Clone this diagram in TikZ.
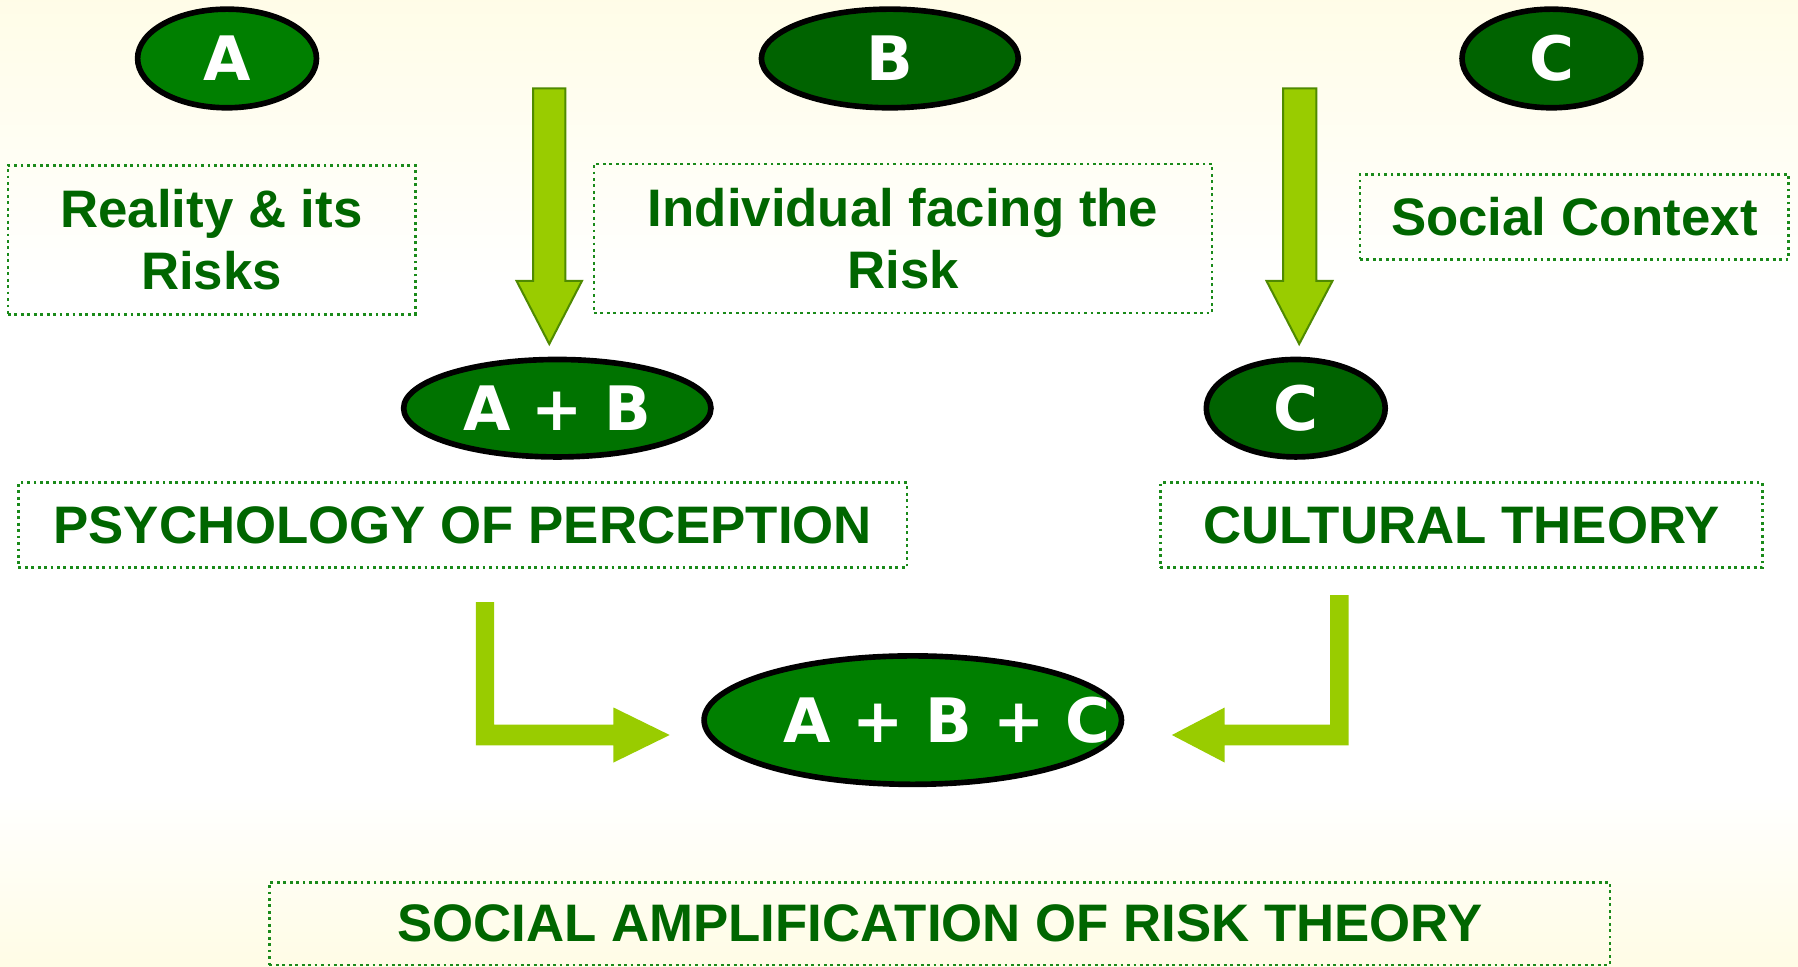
\documentclass[tikz,border=0pt]{standalone}
\usepackage{fontspec}
\setmainfont{Liberation Sans}
\newfontfamily\ellfont{DejaVu Sans}
\usetikzlibrary{shapes.geometric}
\definecolor{leafgreen}{HTML}{006600}
\definecolor{dotgreen}{HTML}{1A8A1A}
\definecolor{arrowlime}{HTML}{99CC00}
\definecolor{arrowedge}{HTML}{4F8A00}
\definecolor{ellbright}{HTML}{007F00}
\definecolor{ellmid}{HTML}{007300}
\definecolor{elldark}{HTML}{006300}
\definecolor{bgtop}{HTML}{FFF8C0}
\definecolor{bgbottom}{HTML}{FFF49E}
\pgfdeclareverticalshading{bgfade}{100bp}{color(0bp)=(bgbottom); color(34bp)=(white);
	color(60bp)=(white); color(100bp)=(bgtop)}
\begin{document}
\begin{tikzpicture}
	\tikzset{
		oval/.style={ellipse, draw=black, line width=1.4pt, minimum height=0.86cm,
			inner sep=0pt, text=white, font=\ellfont\bfseries\fontsize{15.2}{18}\selectfont},
		dotbox/.style={draw=dotgreen, line width=0.7pt, dash pattern=on 0.7pt off 0.9pt,
			inner sep=0pt, align=center, text=leafgreen,
			font=\bfseries\fontsize{13.1}{15.4}\selectfont},
		downarrow/.style={fill=arrowlime, draw=arrowedge, line width=0.5pt},
		bentarrow/.style={fill=arrowlime}
	}
	% background
	\shade[shading=bgfade] (0,0) rectangle (15.68,8.43);
	\useasboundingbox (0,0) rectangle (15.68,8.43);
	% top row
	\node[oval, fill=ellbright, minimum width=1.56cm] (A) at (1.98,7.92) {A};
	\node[oval, fill=elldark, minimum width=2.24cm] (B) at (7.76,7.92) {B};
	\node[oval, fill=elldark, minimum width=1.56cm] (C) at (13.53,7.92) {C};
	\node[dotbox, minimum width=3.55cm, minimum height=1.30cm] (reality) at (1.845,6.34) {Reality \& its\\Risks};
	\node[dotbox, minimum width=5.39cm, minimum height=1.30cm] (individual) at (7.875,6.35) {Individual facing the\\Risk};
	\node[dotbox, minimum width=3.74cm, minimum height=0.74cm] (context) at (13.73,6.54) {Social Context};
	% middle row
	\node[oval, fill=ellmid, minimum width=2.68cm, minimum height=0.85cm] (AB) at (4.86,4.87) {A + B};
	\node[oval, fill=elldark, minimum width=1.56cm, minimum height=0.85cm] (Cm) at (11.30,4.87) {C};
	\node[dotbox, minimum width=7.75cm, minimum height=0.74cm] (psych) at (4.035,3.85) {PSYCHOLOGY OF PERCEPTION};
	\node[dotbox, minimum width=5.25cm, minimum height=0.74cm] (cultural) at (12.745,3.85) {CULTURAL THEORY};
	% bottom
	\node[oval, fill=ellbright, minimum width=3.64cm, minimum height=1.12cm] (ABC) at (7.96,2.15) {};
	\node[text=white, font=\ellfont\bfseries\fontsize{15.2}{18}\selectfont] (ABCtext) at (8.26,2.15) {A + B + C};
	\node[dotbox, minimum width=11.69cm, minimum height=0.72cm] (amplif) at (8.195,0.375) {SOCIAL AMPLIFICATION OF RISK THEORY};
	% arrows
	\coordinate (tipAB) at (4.79,5.43);
	\coordinate (tipC) at (11.33,5.43);
	\coordinate (tipL) at (5.84,2.02);
	\coordinate (tipR) at (10.22,2.02);
	\filldraw[downarrow] (tipAB) -- ++(-0.285,0.55) -- ++(0.145,0) -- ++(0,1.68) -- ++(0.28,0)
		-- ++(0,-1.68) -- ++(0.145,0) -- cycle;
	\filldraw[downarrow] (tipC) -- ++(-0.285,0.55) -- ++(0.145,0) -- ++(0,1.68) -- ++(0.29,0)
		-- ++(0,-1.68) -- ++(0.14,0) -- cycle;
	\fill[bentarrow] (tipL) -- ++(-0.49,0.24) -- ++(0,-0.15) -- ++(-1.04,0) -- ++(0,1.07)
		-- ++(-0.16,0) -- ++(0,-1.25) -- ++(1.20,0) -- ++(0,-0.15) -- cycle;
	\fill[bentarrow] (tipR) -- ++(0.46,0.24) -- ++(0,-0.15) -- ++(0.92,0) -- ++(0,1.13)
		-- ++(0.16,0) -- ++(0,-1.31) -- ++(-1.08,0) -- ++(0,-0.15) -- cycle;
\end{tikzpicture}
\end{document}
